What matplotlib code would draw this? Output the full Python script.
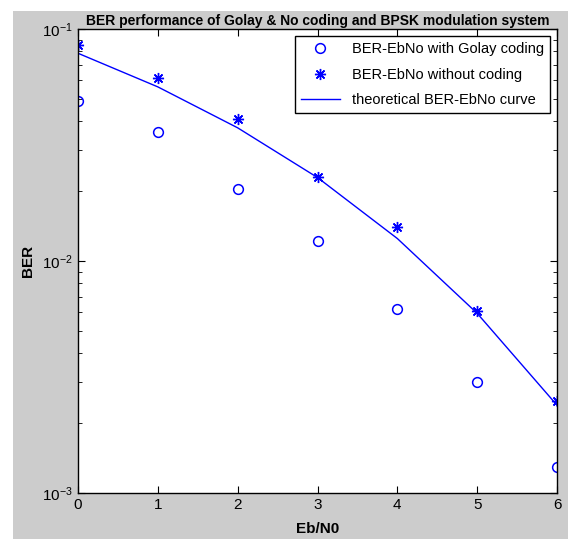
import numpy as np
import matplotlib
matplotlib.use("Agg")
import matplotlib.pyplot as plt
from matplotlib.patches import Rectangle
from matplotlib.ticker import LogLocator, NullFormatter

plt.rcParams['font.family'] = ['Liberation Sans', 'DejaVu Sans']

# data
ebno = [0, 1, 2, 3, 4, 5, 6]
ber_golay = [0.049, 0.036, 0.0205, 0.0122, 0.0062, 0.0030, 0.0013]
ber_uncoded = [0.085, 0.0615, 0.041, 0.023, 0.014, 0.0061, 0.0025]
ber_theory = [0.0786, 0.0563, 0.0375, 0.0229, 0.0125, 0.00595, 0.00239]

blue = '#0000ff'
gray = '#cccccc'

fig = plt.figure(figsize=(5.68, 5.39), dpi=100, facecolor='white')
# gray matlab window background
fig.patches.append(Rectangle((13 / 568, 0), 1, (539 - 11) / 539, transform=fig.transFigure,
                             facecolor=gray, edgecolor='none', zorder=-5))

ax = fig.add_axes([78 / 568, 46 / 539, 479 / 568, 464 / 539])
ax.set_facecolor('white')

ax.semilogy(ebno, ber_golay, linestyle='none', marker='o', markersize=7,
            markerfacecolor='none', markeredgecolor=blue, markeredgewidth=1.1,
            label='BER-EbNo with Golay coding')
ax.semilogy(ebno, ber_uncoded, linestyle='none', marker=(8, 2, 0), markersize=8,
            color=blue, markeredgewidth=1.0, label='BER-EbNo without coding')
ax.semilogy(ebno, ber_theory, color=blue, linewidth=1.0,
            label='theoretical BER-EbNo curve')

ax.set_xlim(0, 6)
ax.set_ylim(1e-3, 1e-1)
ax.set_xticks(ebno)
ax.yaxis.set_major_locator(LogLocator(base=10, numticks=10))
ax.yaxis.set_minor_locator(LogLocator(base=10, subs=np.arange(2, 10), numticks=20))
ax.yaxis.set_minor_formatter(NullFormatter())
ax.tick_params(which='both', direction='in', top=True, right=True, labelsize=11)
ax.tick_params(which='major', length=5)
ax.tick_params(which='minor', length=3)
for sp in ax.spines.values():
    sp.set_linewidth(1.0)

ax.set_xlabel('Eb/N0', fontsize=11, fontweight='bold', labelpad=7)
ax.set_ylabel('BER', fontsize=11, fontweight='bold', labelpad=5)
ax.set_title('BER performance of Golay & No coding and BPSK modulation system',
             fontsize=10, fontweight='bold', pad=3)

leg = ax.legend(loc='upper right', fontsize=10.5, frameon=True, fancybox=False,
                edgecolor='black', framealpha=1, borderaxespad=0.5,
                handlelength=2.7, labelspacing=0.8)
leg.get_frame().set_linewidth(1.0)

fig.savefig('out.png', dpi=100, facecolor='white')
